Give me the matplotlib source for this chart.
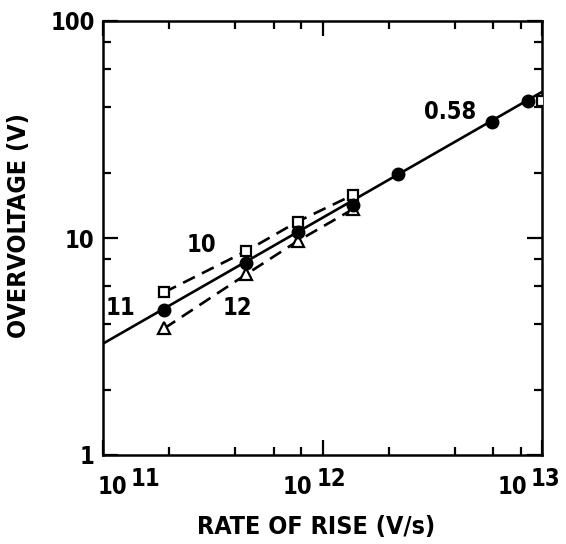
import numpy as np
import matplotlib
matplotlib.use("Agg")
import matplotlib.pyplot as plt
from matplotlib.ticker import LogLocator, NullFormatter
from matplotlib.transforms import offset_copy
from matplotlib import font_manager

plt.rcParams['font.family'] = ['DejaVu Sans']
plt.rcParams['font.weight'] = 'bold'
plt.rcParams['font.stretch'] = 'condensed'

# Rate of rise (V/s) for each measured point
rate_11 = [1.9e11, 4.5e11, 7.7e11, 1.38e12, 2.2e12, 5.9e12, 8.6e12]
volt_11 = [4.64, 7.66, 10.7, 14.2, 19.8, 34.1, 42.6]

rate_10 = [1.9e11, 4.5e11, 7.7e11, 1.38e12]
volt_10 = [5.62, 8.71, 11.9, 15.8]

rate_12 = [1.9e11, 4.5e11, 7.7e11, 1.38e12]
volt_12 = [3.83, 6.81, 9.68, 13.6]

# extra open point at the right edge
rate_edge = [1.0e13]
volt_edge = [43.0]

# power-law fit: V = v0 * (R / 1e11) ** slope
slope = 0.58
v0 = 3.26

x_ticks = [1e11, 1e12, 1e13]
x_exps = ["11", "12", "13"]
y_ticks = [1, 10, 100]
y_ticklabels = ["1", "10", "100"]

W, H = 566, 544
fig = plt.figure(figsize=(W / 100, H / 100), dpi=100)
ax = fig.add_axes([103 / W, 1 - 455 / H, (542 - 103) / W, (455 - 21) / H])
ax.set_xscale('log')
ax.set_yscale('log')
ax.set_xlim(1e11, 1e13)
ax.set_ylim(1, 100)

# fitted line
xf = np.logspace(11, 13, 50)
ax.plot(xf, v0 * (xf / 1e11) ** slope, color='black', lw=1.9, zorder=2)

dash = (0, (5, 3))
ax.plot(rate_10, volt_10, color='black', lw=1.9, linestyle=dash, zorder=2)
ax.plot(rate_12, volt_12, color='black', lw=1.9, linestyle=dash, zorder=2)

ax.plot(rate_11, volt_11, linestyle='none', marker='o', ms=9,
        mfc='black', mec='black', zorder=4)
ax.plot(rate_10, volt_10, linestyle='none', marker='s', ms=7.5,
        mfc='white', mec='black', mew=1.6, zorder=3)
ax.plot(rate_12, volt_12, linestyle='none', marker='^', ms=8.5,
        mfc='white', mec='black', mew=1.6, zorder=3)
ax.plot(rate_edge, volt_edge, linestyle='none', marker='s', ms=7.5,
        mfc='white', mec='black', mew=1.6, zorder=3)

# spines and ticks
for sp in ax.spines.values():
    sp.set_linewidth(1.8)
ax.xaxis.set_major_locator(LogLocator(base=10, numticks=10))
ax.xaxis.set_minor_locator(LogLocator(base=10, subs=[2, 4, 6, 8], numticks=10))
ax.yaxis.set_major_locator(LogLocator(base=10, numticks=10))
ax.yaxis.set_minor_locator(LogLocator(base=10, subs=[2, 4, 6, 8], numticks=10))
ax.tick_params(which='both', direction='in', top=True, right=True, width=1.6)
ax.tick_params(which='major', length=11)
ax.tick_params(which='minor', length=5.5)
ax.xaxis.set_minor_formatter(NullFormatter())
ax.yaxis.set_minor_formatter(NullFormatter())
ax.set_yticks(y_ticks)
ax.set_yticklabels(y_ticklabels)
ax.tick_params(axis='y', which='major', pad=6, labelsize=17)
ax.set_xticks(x_ticks)
ax.set_xticklabels([''] * len(x_ticks))

# x tick labels with full-size raised exponent
base_shift = [24, -10, -15]
for xt, ex, sh in zip(x_ticks, x_exps, base_shift):
    tr = offset_copy(ax.get_xaxis_transform(), fig=fig, x=sh * 0.72, y=0, units='points')
    ax.text(xt, -0.09, "10", transform=tr, ha='right', va='baseline',
            fontsize=17, fontweight='bold')
    tr2 = offset_copy(ax.get_xaxis_transform(), fig=fig, x=(sh + 4) * 0.72,
                      y=8 * 0.72, units='points')
    ax.text(xt, -0.09, ex, transform=tr2, ha='left', va='baseline',
            fontsize=17, fontweight='bold')

fig.text(316 / W, 1 - 527 / H, "RATE OF RISE (V/s)", ha='center', va='center',
         fontsize=18, fontweight='bold')
fig.text(19 / W, 1 - 226 / H, "OVERVOLTAGE (V)", ha='center', va='center',
         rotation=90, fontsize=18, fontweight='bold')

# series annotations
ax.text(2.8e11, 9.3, "10", ha='center', va='center', fontsize=17, fontweight='bold')
ax.text(1.2e11, 4.75, "11", ha='center', va='center', fontsize=17, fontweight='bold')
ax.text(4.1e11, 4.75, "12", ha='center', va='center', fontsize=17, fontweight='bold')
ax.text(3.8e12, 38.0, f"{slope:.2f}", ha='center', va='center', fontsize=17,
        fontweight='bold')

fig.savefig("out.png", dpi=100)
